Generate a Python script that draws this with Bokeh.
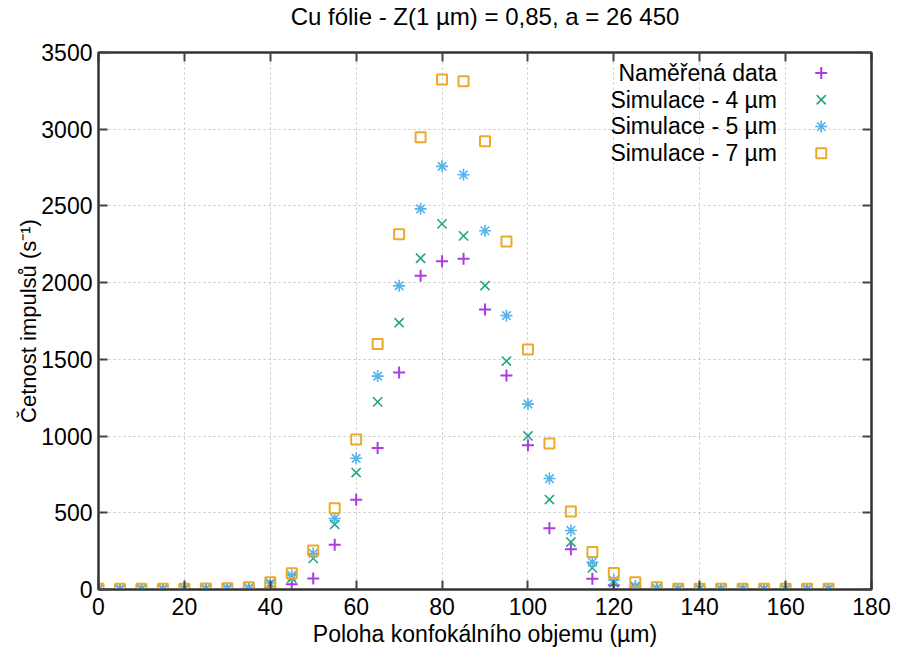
from bokeh.plotting import figure
from bokeh.models import LinearAxis, FixedTicker, Title
from bokeh.core.properties import value
from bokeh.embed import file_html
from bokeh.resources import INLINE

# ---- data ----
poloha = list(range(0, 175, 5))  # 0..170 µm
namerena = [2, 2, 2, 2, 2, 2, 2, 3, 15, 35, 72, 292, 585, 922, 1415, 2045, 2140, 2155,
            1825, 1395, 940, 400, 262, 70, 28, 6, 2, 1, 1, 1, 1, 1, 1, 1, 1]
sim4 = [3, 3, 3, 3, 3, 4, 5, 8, 38, 75, 203, 424, 762, 1223, 1739, 2159, 2383, 2305,
        1981, 1489, 1001, 586, 309, 141, 45, 15, 6, 3, 3, 3, 3, 3, 3, 3, 3]
sim5 = [4, 4, 4, 4, 4, 5, 6, 10, 42, 92, 235, 463, 855, 1391, 1979, 2481, 2758, 2703,
        2338, 1785, 1208, 723, 385, 178, 60, 22, 8, 4, 4, 4, 4, 4, 4, 4, 4]
sim7 = [5, 5, 5, 5, 5, 6, 8, 15, 48, 106, 255, 529, 977, 1600, 2316, 2947, 3324, 3313,
        2921, 2268, 1565, 951, 509, 244, 107, 48, 15, 5, 5, 5, 5, 5, 5, 5, 5]

x_ticks = [0, 20, 40, 60, 80, 100, 120, 140, 160, 180]
y_ticks = [0, 500, 1000, 1500, 2000, 2500, 3000, 3500]
legend_labels = ["Naměřená data", "Simulace - 4 µm", "Simulace - 5 µm", "Simulace - 7 µm"]

title_text = "Cu fólie - Z(1 µm) = 0,85, a = 26 450"
x_label = "Poloha konfokálního objemu (µm)"
y_label = "Četnost impulsů (s⁻¹)"

FONT = "Liberation Sans"

p = figure(width=891, height=657, x_range=(0, 180), y_range=(0, 3500),
           output_backend="svg", toolbar_location=None,
           min_border_left=98, min_border_right=20, min_border_top=52,
           min_border_bottom=68)

p.title = Title(text=title_text, text_font=FONT, text_font_size="24px",
                text_font_style="normal", align="center", text_color="#000000",
                offset=6, standoff=0)

p.outline_line_color = "#333333"
p.outline_line_width = 2
p.background_fill_color = "white"
p.border_fill_color = "white"

for ax in [p.xaxis[0], p.yaxis[0]]:
    ax.major_label_text_font = FONT
    ax.major_label_text_font_size = "23px"
    ax.major_label_text_color = "#000000"
    ax.axis_label_text_font = FONT
    ax.axis_label_text_font_style = "normal"
    ax.axis_label_text_color = "#000000"
    ax.major_tick_in = 9
    ax.major_tick_out = 0
    ax.major_tick_line_width = 2
    ax.major_tick_line_color = "#444444"
    ax.minor_tick_line_color = None
    ax.axis_line_color = "#333333"
    ax.axis_line_width = 2

p.xaxis[0].ticker = FixedTicker(ticks=x_ticks)
p.yaxis[0].ticker = FixedTicker(ticks=y_ticks)
p.xaxis[0].axis_label = x_label
p.yaxis[0].axis_label = y_label
p.xaxis[0].axis_label_text_font_size = "23px"
p.yaxis[0].axis_label_text_font_size = "22px"
p.xaxis[0].major_label_standoff = 8
p.yaxis[0].major_label_standoff = 6
p.xaxis[0].axis_label_standoff = 3
p.yaxis[0].axis_label_standoff = -3

# mirrored tick axes (gnuplot style); the blank top axis label only reserves space
top = LinearAxis(ticker=FixedTicker(ticks=x_ticks),
                 major_label_overrides={t: "" for t in x_ticks},
                 major_label_text_font_size="1px", major_label_standoff=0,
                 axis_label=" ", axis_label_text_font_size="1px",
                 axis_label_standoff=19,
                 major_tick_in=9, major_tick_out=0, major_tick_line_width=2,
                 major_tick_line_color="#444444", minor_tick_line_color=None,
                 axis_line_color="#333333", axis_line_width=2)
right = LinearAxis(ticker=FixedTicker(ticks=y_ticks),
                   major_label_overrides={t: "" for t in y_ticks},
                   major_label_text_font_size="1px", major_label_standoff=0,
                   major_tick_in=9, major_tick_out=0, major_tick_line_width=2,
                   major_tick_line_color="#444444", minor_tick_line_color=None,
                   axis_line_color="#333333", axis_line_width=2)
p.add_layout(top, "above")
p.add_layout(right, "right")

p.xgrid.ticker = FixedTicker(ticks=x_ticks)
p.ygrid.ticker = FixedTicker(ticks=y_ticks)
for g in [p.xgrid[0], p.ygrid[0]]:
    g.grid_line_color = "#c4c4c4"
    g.grid_line_dash = "2 3"
    g.grid_line_width = 1

c_meas = "#a83ee0"
c_s4 = "#1fa67e"
c_s5 = "#56b4e9"
c_s7 = "#eaaa2a"

p.scatter(poloha, namerena, marker="cross", size=12, line_color=c_meas, line_width=2)
p.scatter(poloha, sim4, marker="x", size=13, line_color=c_s4, line_width=1.6)
p.scatter(poloha, sim5, marker="asterisk", size=12, line_color=c_s5, line_width=1.6)
p.scatter(poloha, sim7, marker="square", size=10, line_color=c_s7, line_width=2,
          fill_color=None)

# legend (gnuplot style: text right-aligned, sample symbol on the right)
leg_x_sym = 168.3
leg_x_txt = 158.0
leg_y0 = 3366
leg_dy = 174
leg_y = [leg_y0 - i * leg_dy for i in range(len(legend_labels))]
p.text([leg_x_txt] * 4, leg_y, text=legend_labels, text_font=value(FONT),
       text_font_size="23px", text_align="right", text_baseline="middle",
       text_color="#000000")
markers = ["cross", "x", "asterisk", "square"]
colors = [c_meas, c_s4, c_s5, c_s7]
sizes = [12, 13, 12, 10]
widths = [2, 1.6, 1.6, 2]
for i in range(4):
    p.scatter([leg_x_sym], [leg_y[i]], marker=markers[i], size=sizes[i],
              line_color=colors[i], line_width=widths[i], fill_color=None)

open("out.html", "w").write(file_html(p, INLINE))
